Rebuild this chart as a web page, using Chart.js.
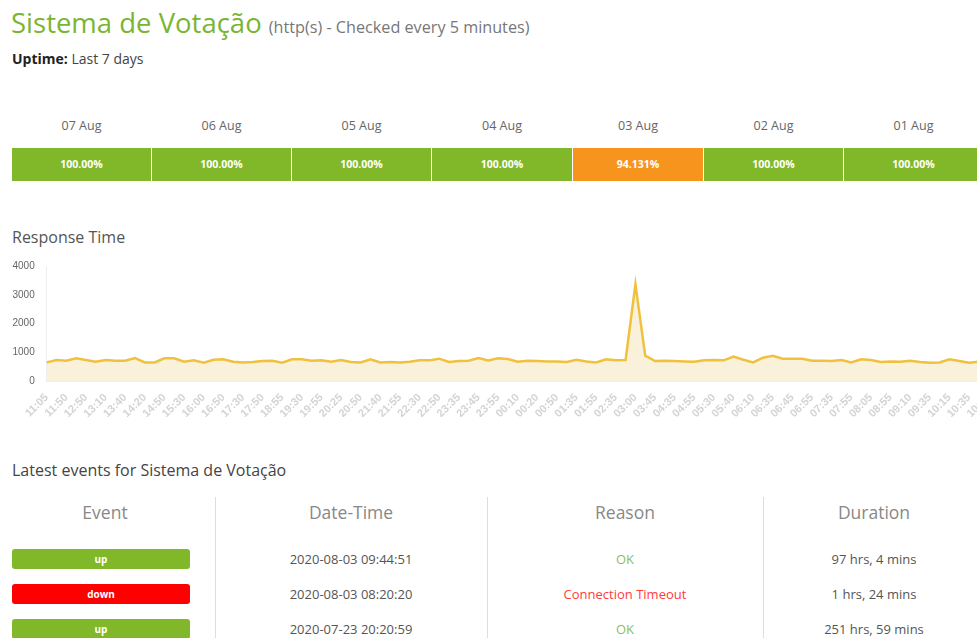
<!DOCTYPE html>
<html>
<head>
<meta charset="utf-8">
<script src="https://cdn.jsdelivr.net/npm/chart.js@4.4.0/dist/chart.umd.min.js"></script>
<style>
  html, body { margin: 0; padding: 0; overflow: hidden; background: #fff; }
  body { width: 977px; height: 638px; position: relative; font-family: "Open Sans", sans-serif; }
  .abs { position: absolute; white-space: nowrap; }
  #title { left: 11px; top: 3px; line-height: 40px; font-size: 27.5px; color: #7ab532; }
  #title small { font-size: 16.2px; color: #777; }
  #uptime { left: 12px; top: 50px; font-size: 14px; color: #444; line-height: 18px; }
  #uptime b { color: #222; }
  .day { top: 117px; font-size: 12.5px; color: #666; text-align: center; line-height: 18px; }
  .cell { top: 148px; height: 33px; line-height: 33px; color: #fff; font-size: 10.5px; font-weight: bold; text-align: center; }
  .h2 { font-size: 16px; color: #555; line-height: 20px; }
  #chartBox { left: 12px; top: 256px; width: 988px; height: 161px; }
  .th { top: 501px; font-size: 17.5px; color: #888; text-align: center; line-height: 22px; }
  .vline { top: 497px; width: 1px; height: 141px; background: #ddd; }
  .td { font-size: 13px; color: #555; text-align: center; line-height: 18px; }
  .badge { left: 12px; width: 178px; height: 20px; line-height: 20px; border-radius: 3px; color: #fff; font-size: 10px; font-weight: bold; text-align: center; }
</style>
</head>
<body>
<div id="title" class="abs">Sistema de Votação <small>(http(s) - Checked every 5 minutes)</small></div>
<div id="uptime" class="abs"><b>Uptime:</b> Last 7 days</div>
<div id="days"></div>
<div class="abs h2" style="left:12px; top:227px;">Response Time</div>
<div id="chartBox" class="abs"><canvas id="responseChart"></canvas></div>
<div class="abs h2" style="left:12px; top:460px; color:#444;">Latest events for Sistema de Votação</div>
<div id="events"></div>

<script>
const uptimeDays = ['07 Aug', '06 Aug', '05 Aug', '04 Aug', '03 Aug', '02 Aug', '01 Aug'];
const uptimePct = ['100.00%', '100.00%', '100.00%', '100.00%', '94.131%', '100.00%', '100.00%'];

const timeLabels = [
  '11:05','11:25','11:50','12:20','12:50','13:00','13:10','13:25','13:40','14:00',
  '14:20','14:35','14:50','15:10','15:30','15:45','16:00','16:25','16:50','17:10',
  '17:30','17:40','17:50','18:20','18:55','19:10','19:30','19:45','19:55','20:10',
  '20:25','20:35','20:50','21:15','21:40','21:50','21:55','22:10','22:30','22:40',
  '22:50','23:15','23:35','23:40','23:45','23:50','23:55','00:05','00:10','00:15',
  '00:20','00:35','00:50','01:10','01:35','01:45','01:55','02:15','02:35','02:45',
  '03:00','03:20','03:45','04:10','04:35','04:45','04:55','05:10','05:30','05:35',
  '05:40','05:55','06:10','06:20','06:35','06:40','06:45','06:50','06:55','07:15',
  '07:35','07:45','07:55','08:00','08:05','08:30','08:55','09:05','09:10','09:20',
  '09:35','09:55','10:15','10:25','10:35','10:45','10:55'
];

const responseMs = [
  647, 730, 705, 790, 730, 670, 730, 705, 705, 800,
  647, 647, 790, 790, 670, 718, 635, 740, 753, 670,
  647, 660, 694, 705, 635, 753, 753, 705, 725, 670,
  730, 660, 647, 753, 647, 660, 647, 670, 718, 718,
  776, 660, 694, 705, 800, 718, 790, 765, 670, 705,
  694, 682, 682, 660, 740, 682, 647, 753, 718, 730,
  3370, 880, 694, 705, 694, 682, 670, 718, 730, 718,
  847, 740, 647, 812, 880, 776, 776, 776, 705, 705,
  694, 730, 647, 753, 730, 660, 682, 670, 705, 660,
  635, 647, 753, 694, 635, 670, 690
];

const yTicks = [0, 1000, 2000, 3000, 4000];

const eventTypes = ['up', 'down', 'up'];
const eventTimes = ['2020-08-03 09:44:51', '2020-08-03 08:20:20', '2020-07-23 20:20:59'];
const eventReasons = ['OK', 'Connection Timeout', 'OK'];
const eventDurations = ['97 hrs, 4 mins', '1 hrs, 24 mins', '251 hrs, 59 mins'];

// uptime strip
const cellX = [12, 152, 292, 432, 573, 704, 844];
const cellW = [139, 139, 139, 140, 130, 139, 139];
let daysHtml = '';
uptimeDays.forEach((d, i) => {
  let color = uptimePct[i] === '100.00%' ? '#80b82a' : '#f7941e';
  daysHtml += `<div class="abs day" style="left:${cellX[i]}px;width:${cellW[i]}px">${d}</div>`;
  daysHtml += `<div class="abs cell" style="left:${cellX[i]}px;width:${cellW[i]}px;background:${color}">${uptimePct[i]}</div>`;
});
document.getElementById('days').innerHTML = daysHtml;

// events table
const colX = [12, 215, 487, 763];
const colW = [186, 272, 276, 222];
let evHtml = '';
['Event', 'Date-Time', 'Reason', 'Duration'].forEach((h, i) => {
  evHtml += `<div class="abs th" style="left:${colX[i]}px;width:${colW[i]}px">${h}</div>`;
});
[215, 487, 763].forEach(x => { evHtml += `<div class="abs vline" style="left:${x}px"></div>`; });
const rowY = [559, 594, 629];
eventTypes.forEach((t, i) => {
  let y = rowY[i];
  let bg = t === 'up' ? '#80b82a' : '#ff0000';
  let reasonColor = eventReasons[i] === 'OK' ? '#8cc152' : '#ff3b3b';
  evHtml += `<div class="abs badge" style="top:${y - 10}px;background:${bg}">${t}</div>`;
  evHtml += `<div class="abs td" style="top:${y - 9}px;left:${colX[1]}px;width:${colW[1]}px">${eventTimes[i]}</div>`;
  evHtml += `<div class="abs td" style="top:${y - 9}px;left:${colX[2]}px;width:${colW[2]}px;color:${reasonColor}">${eventReasons[i]}</div>`;
  evHtml += `<div class="abs td" style="top:${y - 9}px;left:${colX[3]}px;width:${colW[3]}px">${eventDurations[i]}</div>`;
});
document.getElementById('events').innerHTML = evHtml;

// response time chart
let ctx = document.getElementById('responseChart');

let config = {
  type: 'line',
  data: {
    labels: timeLabels,
    datasets: [{
      label: 'Response Time',
      data: responseMs,
      fill: true,
      backgroundColor: '#faf1da',
      borderColor: '#efc13f',
      borderWidth: 2.5,
      pointRadius: 0,
      tension: 0
    }]
  },
  options: {
    responsive: true,
    maintainAspectRatio: false,
    animation: false,
    layout: { padding: { top: 7, right: 0, left: 0, bottom: 0 } },
    plugins: {
      legend: { display: false },
      tooltip: { enabled: false }
    },
    scales: {
      x: {
        grid: { display: false },
        border: { display: true, color: '#eee' },
        afterFit: function(scale) { scale.height = 36; },
        ticks: {
          autoSkip: false,
          minRotation: 45,
          maxRotation: 45,
          padding: 2,
          color: '#d4d4d4',
          font: { family: 'Liberation Sans', size: 11, weight: 'bold' },
          callback: function(val, i) {
            return i % 2 === 0 ? this.getLabelForValue(val) : '';
          }
        }
      },
      y: {
        min: yTicks[0],
        max: yTicks[yTicks.length - 1],
        grid: { display: false },
        border: { display: true, color: '#eee' },
        afterFit: function(scale) { scale.width = 34.7; },
        ticks: {
          stepSize: yTicks[1] - yTicks[0],
          padding: 4,
          color: '#666',
          font: { family: 'Liberation Sans', size: 10 },
          callback: function(val) { return String(val); }
        }
      }
    }
  }
};

new Chart(ctx, config);
</script>
</body>
</html>
